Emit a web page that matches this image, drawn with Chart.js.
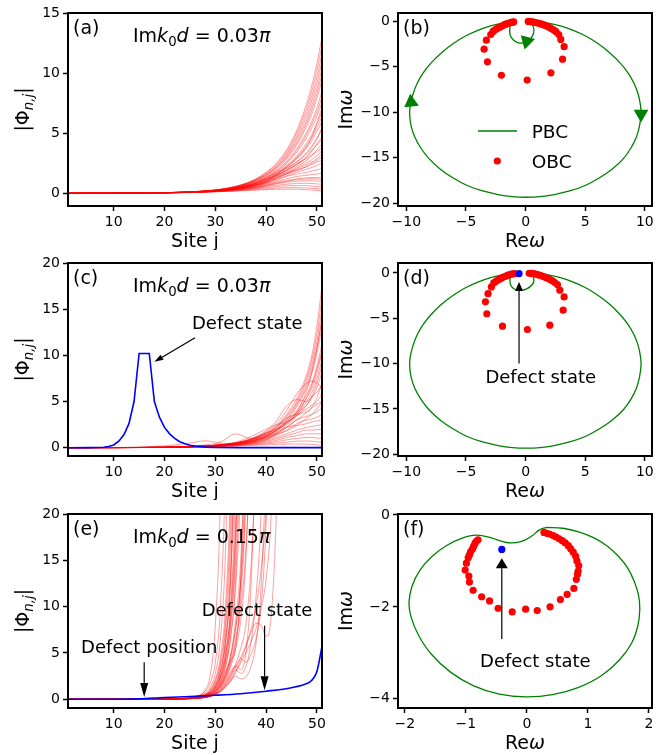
<!DOCTYPE html>
<html>
<head>
<meta charset="utf-8">
<script src="https://cdn.jsdelivr.net/npm/chart.js@4.4.0/dist/chart.umd.min.js"></script>
<style>
  html, body { margin: 0; padding: 0; background: #fff; }
  #fig { position: relative; width: 664px; height: 755px; }
  #fig canvas { position: absolute; }
</style>
</head>
<body>
<div id="fig">
  <canvas id="pa" width="332" height="250" style="left:0;top:0"></canvas>
  <canvas id="pb" width="332" height="250" style="left:332px;top:0"></canvas>
  <canvas id="pc" width="332" height="250" style="left:0;top:250px"></canvas>
  <canvas id="pd" width="332" height="250" style="left:332px;top:250px"></canvas>
  <canvas id="pe" width="332" height="255" style="left:0;top:500px"></canvas>
  <canvas id="pf" width="332" height="255" style="left:332px;top:500px"></canvas>
</div>
<script>
// ---- mode profiles |Phi_{n,j}| ----
const sitesA = [1, 10, 20, 28, 33, 37, 40, 42, 44, 46, 48, 49, 50, 51];
const redA = [
  [0, 0.01, 0.05, 0.2, 0.49, 1.0, 1.75, 2.5, 3.6, 5.2, 7.5, 9.0, 10.8, 13.0],
  [0, 0.01, 0.05, 0.2, 0.48, 0.98, 1.7, 2.4, 3.45, 5.0, 7.15, 8.55, 10.25, 12.3],
  [0, 0.01, 0.05, 0.19, 0.46, 0.95, 1.62, 2.3, 3.3, 4.75, 6.8, 8.1, 9.7, 11.6],
  [0, 0.01, 0.05, 0.19, 0.45, 0.93, 1.57, 2.22, 3.18, 4.55, 6.45, 7.7, 9.2, 11.0],
  [0, 0.01, 0.05, 0.19, 0.44, 0.9, 1.52, 2.15, 3.05, 4.35, 6.1, 7.3, 8.7, 10.4],
  [0, 0.01, 0.05, 0.18, 0.43, 0.88, 1.48, 2.1, 2.95, 4.15, 5.85, 6.95, 8.3, 9.9],
  [0, 0.01, 0.05, 0.18, 0.42, 0.86, 1.42, 2.0, 2.85, 4.0, 5.6, 6.6, 7.9, 9.4],
  [0, 0.01, 0.05, 0.18, 0.4, 0.82, 1.34, 1.88, 2.65, 3.7, 5.1, 6.0, 7.1, 8.5],
  [0, 0.01, 0.05, 0.17, 0.4, 0.8, 1.3, 1.82, 2.55, 3.55, 4.9, 5.75, 6.75, 8.0],
  [0, 0.01, 0.05, 0.17, 0.39, 0.78, 1.27, 1.77, 2.45, 3.4, 4.65, 5.45, 6.4, 7.6],
  [0, 0.01, 0.04, 0.15, 0.34, 0.65, 1.1, 1.6, 2.2, 2.9, 3.9, 4.7, 5.9, 7.1],
  [0, 0.01, 0.05, 0.17, 0.37, 0.74, 1.2, 1.65, 2.3, 3.1, 4.2, 4.9, 5.75, 6.8],
  [0, 0.01, 0.04, 0.16, 0.36, 0.72, 1.16, 1.6, 2.2, 2.98, 4.0, 4.65, 5.45, 6.4],
  [0, 0.01, 0.04, 0.16, 0.36, 0.7, 1.12, 1.55, 2.12, 2.85, 3.8, 4.4, 5.15, 6.0],
  [0, 0.01, 0.04, 0.16, 0.37, 0.72, 1.25, 1.7, 2.1, 2.6, 3.3, 3.8, 4.5, 5.5],
  [0, 0.01, 0.04, 0.16, 0.34, 0.66, 1.05, 1.48, 2.0, 2.6, 3.4, 3.95, 4.6, 5.3],
  [0, 0.01, 0.04, 0.15, 0.33, 0.63, 1.0, 1.45, 1.95, 2.35, 3.0, 3.5, 4.1, 4.7],
  [0, 0.01, 0.04, 0.15, 0.34, 0.64, 1.02, 1.5, 1.85, 2.4, 3.1, 3.6, 4.0, 4.5],
  [0, 0.01, 0.04, 0.15, 0.32, 0.6, 0.98, 1.4, 1.75, 2.2, 2.75, 3.15, 3.6, 4.1],
  [0, 0.01, 0.04, 0.15, 0.35, 0.68, 1.15, 1.45, 1.9, 2.45, 2.9, 3.2, 3.45, 3.8],
  [0, 0.01, 0.04, 0.14, 0.31, 0.58, 0.95, 1.25, 1.6, 2.1, 2.55, 2.8, 3.15, 3.5],
  [0, 0.01, 0.04, 0.14, 0.31, 0.57, 0.9, 1.3, 1.7, 2.0, 2.4, 2.6, 2.9, 3.25],
  [0, 0.01, 0.04, 0.14, 0.3, 0.55, 0.88, 1.2, 1.6, 1.85, 2.25, 2.5, 2.75, 3.0],
  [0, 0.01, 0.04, 0.14, 0.3, 0.56, 0.9, 1.3, 1.65, 1.95, 2.2, 2.4, 2.6, 2.75],
  [0, 0.01, 0.04, 0.13, 0.28, 0.52, 0.82, 1.15, 1.45, 1.75, 2.0, 2.15, 2.3, 2.5],
  [0, 0.01, 0.04, 0.13, 0.27, 0.5, 0.78, 1.05, 1.4, 1.6, 1.75, 1.85, 1.95, 2.05],
  [0, 0.01, 0.03, 0.12, 0.26, 0.47, 0.72, 0.95, 1.2, 1.4, 1.5, 1.55, 1.6, 1.65],
  [0, 0.01, 0.03, 0.12, 0.25, 0.44, 0.66, 0.88, 1.05, 1.2, 1.28, 1.3, 1.3, 1.3],
  [0, 0.01, 0.03, 0.12, 0.24, 0.42, 0.63, 0.82, 1.0, 1.12, 1.2, 1.22, 1.2, 1.15],
  [0, 0.01, 0.03, 0.11, 0.23, 0.4, 0.6, 0.78, 0.92, 1.0, 1.05, 1.04, 1.02, 1.0],
  [0, 0.01, 0.03, 0.11, 0.22, 0.37, 0.52, 0.66, 0.76, 0.82, 0.83, 0.81, 0.78, 0.75],
  [0, 0.01, 0.03, 0.1, 0.2, 0.33, 0.45, 0.55, 0.62, 0.64, 0.63, 0.6, 0.56, 0.52],
  [0, 0.01, 0.03, 0.1, 0.18, 0.28, 0.37, 0.43, 0.46, 0.47, 0.44, 0.41, 0.38, 0.34],
  [0, 0.01, 0.03, 0.09, 0.16, 0.24, 0.3, 0.33, 0.34, 0.33, 0.3, 0.27, 0.24, 0.2]
];

const sitesC = [1, 10, 20, 25, 28, 31, 34, 37, 40, 42, 44, 46, 48, 49, 50, 51];
const redC = [
  [0, 0.01, 0.05, 0.12, 0.2, 0.3, 0.5, 0.9, 1.6, 2.4, 3.6, 5.3, 8.0, 10.0, 13.2, 17.5],
  [0, 0.01, 0.05, 0.12, 0.2, 0.3, 0.5, 0.88, 1.55, 2.3, 3.45, 5.0, 7.6, 9.5, 12.3, 16.2],
  [0, 0.01, 0.05, 0.12, 0.2, 0.3, 0.5, 0.85, 1.5, 2.2, 3.3, 4.8, 7.2, 9.0, 11.5, 15.0],
  [0, 0.01, 0.04, 0.1, 0.18, 0.3, 0.5, 0.95, 1.6, 2.0, 2.6, 3.8, 6.2, 8.2, 10.8, 14.0],
  [0, 0.01, 0.05, 0.11, 0.19, 0.29, 0.47, 0.82, 1.45, 2.1, 3.1, 4.6, 6.8, 8.5, 10.8, 13.8],
  [0, 0.01, 0.05, 0.1, 0.18, 0.28, 0.45, 0.8, 1.4, 2.0, 3.0, 4.4, 6.5, 8.0, 10.2, 13.0],
  [0, 0.01, 0.05, 0.1, 0.18, 0.28, 0.45, 0.75, 1.3, 1.9, 2.8, 4.0, 5.8, 7.0, 8.8, 11.2],
  [0, 0.01, 0.04, 0.12, 0.2, 0.35, 0.6, 1.2, 2.0, 2.5, 2.8, 3.5, 5.5, 6.8, 8.5, 10.5],
  [0, 0.01, 0.04, 0.1, 0.17, 0.27, 0.43, 0.72, 1.25, 1.85, 2.7, 3.8, 5.4, 6.5, 8.1, 10.3],
  [0, 0.01, 0.04, 0.1, 0.17, 0.27, 0.42, 0.7, 1.2, 1.8, 2.6, 3.6, 5.0, 6.0, 7.5, 9.5],
  [0, 0.01, 0.04, 0.11, 0.19, 0.32, 0.55, 1.0, 1.8, 2.9, 4.5, 5.2, 5.0, 5.6, 7.0, 9.0],
  [0, 0.01, 0.04, 0.1, 0.17, 0.26, 0.4, 0.65, 1.2, 1.9, 2.9, 3.8, 4.6, 5.4, 6.5, 8.2],
  [0, 0.01, 0.04, 0.1, 0.16, 0.25, 0.4, 0.7, 1.3, 2.2, 3.2, 3.6, 3.9, 4.4, 5.4, 7.0],
  [0, 0.02, 0.2, 0.5, 0.75, 0.5, 0.45, 0.7, 1.1, 1.6, 2.4, 3.4, 4.6, 5.5, 6.0, 6.8],
  [0, 0.01, 0.04, 0.1, 0.18, 0.3, 0.5, 0.9, 1.7, 2.6, 4.0, 5.8, 7.0, 7.2, 7.0, 6.5],
  [0, 0.01, 0.05, 0.15, 0.3, 0.6, 1.5, 1.0, 1.2, 1.8, 2.7, 3.5, 4.2, 4.6, 5.0, 5.8],
  [0, 0.01, 0.04, 0.1, 0.16, 0.25, 0.38, 0.6, 1.0, 1.5, 2.2, 3.0, 3.8, 4.3, 4.7, 5.0],
  [0, 0.01, 0.03, 0.08, 0.13, 0.2, 0.33, 0.55, 1.1, 1.5, 1.8, 2.4, 3.2, 3.6, 4.2, 5.0],
  [0, 0.01, 0.04, 0.09, 0.15, 0.24, 0.36, 0.6, 1.0, 1.4, 2.2, 3.0, 3.4, 3.6, 3.9, 4.3],
  [0, 0.01, 0.04, 0.09, 0.15, 0.22, 0.35, 0.55, 0.9, 1.3, 1.9, 2.6, 3.0, 3.1, 3.3, 3.6],
  [0, 0.01, 0.04, 0.08, 0.14, 0.2, 0.32, 0.5, 0.85, 1.6, 2.2, 2.4, 2.6, 2.8, 2.9, 3.0],
  [0, 0.01, 0.03, 0.08, 0.13, 0.19, 0.3, 0.48, 0.8, 1.1, 1.5, 1.9, 2.2, 2.3, 2.4, 2.5],
  [0, 0.01, 0.03, 0.07, 0.12, 0.17, 0.28, 0.45, 0.7, 0.95, 1.3, 1.6, 1.9, 1.9, 1.95, 2.0],
  [0, 0.01, 0.03, 0.07, 0.11, 0.16, 0.25, 0.4, 0.6, 0.8, 1.1, 1.3, 1.5, 1.5, 1.5, 1.5],
  [0, 0.01, 0.03, 0.06, 0.1, 0.15, 0.22, 0.35, 0.5, 0.65, 0.85, 1.0, 1.1, 1.1, 1.05, 1.0],
  [0, 0.01, 0.03, 0.06, 0.09, 0.13, 0.2, 0.3, 0.42, 0.5, 0.6, 0.7, 0.72, 0.7, 0.65, 0.6],
  [0, 0.01, 0.02, 0.05, 0.08, 0.12, 0.17, 0.24, 0.3, 0.35, 0.38, 0.4, 0.38, 0.35, 0.3, 0.25]
];
// defect mode, panel (c)
const sitesDefC = [1, 5, 8, 9, 10, 11, 12, 13, 14, 15, 16, 17, 18, 19, 20, 21, 22, 23, 24, 25, 26, 28, 30, 35, 51];
const defectC = [0, 0.01, 0.05, 0.12, 0.3, 0.7, 1.4, 2.6, 5.0, 10.2, 10.2, 10.2, 5.0, 3.3, 2.2, 1.5, 1.0, 0.65, 0.42, 0.27, 0.17, 0.06, 0.02, 0.01, 0.01];

const sitesE = [1, 15, 20, 24, 26, 28, 29, 30, 31, 32, 33, 34, 35, 36, 37, 38, 39, 40, 41, 42, 43];
const redE = [
  [0, 0.01, 0.04, 0.12, 0.3, 1.0, 2.6, 8, 22, 60],
  [0, 0.01, 0.04, 0.12, 0.3, 0.9, 1.8, 4, 10, 26, 70],
  [0, 0.01, 0.03, 0.1, 0.25, 0.7, 1.3, 2.8, 6.5, 16, 40],
  [0, 0.01, 0.03, 0.1, 0.22, 0.6, 1.1, 2.2, 4.5, 10, 24, 60],
  [0, 0.01, 0.03, 0.09, 0.2, 0.5, 0.9, 1.8, 3.6, 7.5, 17, 40],
  [0, 0.01, 0.03, 0.09, 0.19, 0.47, 0.8, 1.5, 3.0, 6.0, 12.5, 27],
  [0, 0.01, 0.03, 0.08, 0.18, 0.45, 0.8, 1.5, 2.9, 6, 13, 30],
  [0, 0.01, 0.03, 0.08, 0.17, 0.4, 0.7, 1.3, 2.5, 5, 10, 24, 60],
  [0, 0.01, 0.03, 0.08, 0.16, 0.4, 0.68, 1.25, 2.4, 4.6, 9, 18, 36],
  [0, 0.01, 0.03, 0.07, 0.15, 0.35, 0.6, 1.1, 2.1, 4, 8, 17, 40],
  [0, 0.01, 0.02, 0.07, 0.14, 0.34, 0.58, 1.05, 1.9, 3.6, 6.8, 13, 26],
  [0, 0.01, 0.02, 0.07, 0.14, 0.32, 0.55, 1.0, 1.8, 3.4, 6.5, 12, 24, 55],
  [0, 0.01, 0.02, 0.06, 0.13, 0.3, 0.5, 0.9, 1.7, 3.0, 4.2, 5.5, 13, 30],
  [0, 0.01, 0.02, 0.06, 0.13, 0.29, 0.48, 0.85, 1.5, 2.6, 4.4, 7.5, 12.5, 22, 45],
  [0, 0.01, 0.02, 0.06, 0.12, 0.28, 0.45, 0.8, 1.4, 2.4, 4.0, 6.5, 11, 22, 50],
  [0, 0.01, 0.02, 0.06, 0.12, 0.26, 0.42, 0.75, 1.3, 2.2, 3.5, 5.5, 8.5, 15, 30],
  [0, 0.01, 0.02, 0.05, 0.11, 0.24, 0.4, 0.7, 1.2, 2.0, 3.0, 3.6, 3.2, 5, 12, 28],
  [0, 0.01, 0.02, 0.05, 0.1, 0.22, 0.36, 0.6, 1.0, 1.7, 2.6, 3.8, 5.5, 8, 14, 25],
  [0, 0.01, 0.02, 0.05, 0.1, 0.2, 0.32, 0.55, 0.9, 1.4, 2.1, 3.0, 4.2, 5.6, 7.2, 8.2, 8.0, 6.8, 9, 20, 45],
  [0, 0.01, 0.02, 0.05, 0.1, 0.2, 0.33, 0.55, 0.9, 1.5, 2.3, 3.2, 2.8, 3.5, 6, 11, 20, 40],
  [0, 0.01, 0.02, 0.05, 0.09, 0.18, 0.3, 0.5, 0.8, 1.3, 1.9, 2.5, 2.2, 2.4, 3.5, 6, 12, 25],
  [0, 0.01, 0.03, 0.08, 0.16, 0.38, 0.65, 1.2, 2.2, 4.2, 8, 15, 30],
  [0, 0.01, 0.03, 0.09, 0.2, 0.5, 0.85, 1.6, 3.2, 6.5, 14, 32],
  [0, 0.01, 0.02, 0.06, 0.13, 0.3, 0.5, 0.85, 1.5, 2.7, 4.6, 7.8, 13, 24],
  [0, 0.01, 0.03, 0.1, 0.22, 0.55, 1.0, 2.0, 4.0, 8.5, 20, 45],
  [0, 0.01, 0.02, 0.05, 0.1, 0.22, 0.35, 0.6, 1.1, 1.8, 2.8, 3.6, 4.4, 4.0, 4.8, 6.5, 10, 19, 38],
  [0, 0.01, 0.02, 0.05, 0.1, 0.21, 0.34, 0.58, 1.0, 1.6, 2.5, 3.4, 4.5, 5.8, 7.5, 10, 14, 21, 40],
  [0, 0.01, 0.02, 0.05, 0.09, 0.19, 0.31, 0.52, 0.85, 1.35, 2.0, 2.9, 3.9, 5.0, 6.2, 7.6, 9.8, 13, 20, 38],
  [0, 0.01, 0.03, 0.07, 0.14, 0.33, 0.55, 0.95, 1.6, 2.8, 4.8, 8.5, 15, 28],
  [0, 0.01, 0.03, 0.08, 0.17, 0.42, 0.72, 1.3, 2.5, 4.8, 9.5, 19, 38],
  [0, 0.01, 0.02, 0.06, 0.12, 0.27, 0.44, 0.78, 1.35, 2.3, 3.8, 6.0, 9.8, 16, 28]
];
// defect mode, panel (e)
const sitesDefE = [1, 10, 15, 20, 25, 30, 35, 40, 45, 48, 49, 50, 51];
const defectE = [0, 0.01, 0.05, 0.2, 0.3, 0.43, 0.6, 0.87, 1.25, 1.7, 2.05, 3.0, 5.7];

// ---- spectra in the complex plane ----
// PBC loop, large arc (b, d), clockwise from the top
const arcRe = [0.35, 1.0, 2.0, 3.0, 4.0, 5.0, 6.0, 7.0, 7.9, 8.6, 9.1, 9.45, 9.64, 9.68, 9.55, 9.3, 8.85, 8.2, 7.3, 6.2, 5.0, 3.7, 2.4, 1.2, 0.07,
  -1.1, -2.3, -3.6, -4.9, -6.1, -7.2, -8.1, -8.8, -9.3, -9.6, -9.72, -9.68, -9.45, -9.1, -8.6, -7.9, -7.0, -6.0, -5.0, -4.0, -3.0, -2.0, -1.1];
const arcIm = [-0.03, -0.08, -0.24, -0.55, -1.0, -1.6, -2.4, -3.4, -4.55, -5.7, -6.85, -8.05, -9.3, -10.2, -11.5, -12.7, -13.9, -15.1, -16.2, -17.2, -18.05, -18.65, -19.05, -19.28, -19.34,
  -19.28, -19.05, -18.65, -18.05, -17.2, -16.2, -15.1, -13.9, -12.7, -11.5, -10.3, -9.3, -8.05, -6.85, -5.7, -4.55, -3.4, -2.4, -1.6, -1.0, -0.55, -0.24, -0.07];
// small inner loop near the origin
const notchBRe = [-1.3, -1.3, -1.0, -0.5, 0.1, 0.55, 0.7, 0.55, 0.35];
const notchBIm = [-0.5, -1.5, -2.1, -2.4, -2.25, -1.7, -0.95, -0.35, -0.03];
const notchDRe = [-1.3, -1.25, -0.9, -0.45, 0.1, 0.55, 0.7, 0.55, 0.35];
const notchDIm = [-0.6, -1.35, -1.8, -1.92, -1.75, -1.3, -0.8, -0.25, -0.03];
// winding direction markers (b)
const dirRe = [-9.6, 9.68, 0.1];
const dirIm = [-8.9, -10.2, -2.2];
const dirRot = [-6, 180, 75];

const obcBRe = [-1.0, -1.12, -1.25, -1.38, -1.52, -1.66, -1.8, -1.95, -2.1, -2.26, -2.42, -2.58, -2.73, -2.92, -3.29, -3.48, -3.2, -2.03, 0.13,
  2.12, 3.1, 3.23, 2.95, 2.78, 2.55, 2.38, 2.2, 2.02, 1.84, 1.66, 1.48, 1.3, 1.12, 0.94, 0.76, 0.58, 0.4, 0.22];
const obcBIm = [-0.08, -0.11, -0.15, -0.2, -0.26, -0.33, -0.41, -0.5, -0.6, -0.71, -0.83, -0.97, -1.12, -1.46, -2.08, -3.07, -4.46, -5.94, -6.47,
  -5.67, -4.17, -2.8, -2.0, -1.46, -1.15, -0.98, -0.83, -0.7, -0.58, -0.47, -0.38, -0.3, -0.23, -0.17, -0.12, -0.08, -0.05, -0.03];
const obcDRe = [-0.92, -1.05, -1.18, -1.32, -1.46, -1.6, -1.75, -1.9, -2.05, -2.2, -2.36, -2.52, -2.67, -2.87, -3.15, -3.37, -3.25, -1.94, 0.15,
  2.03, 3.15, 3.23, 2.87, 2.67, 2.45, 2.28, 2.1, 1.92, 1.74, 1.56, 1.38, 1.2, 1.02, 0.84, 0.66, 0.48, 0.3];
const obcDIm = [-0.06, -0.09, -0.13, -0.18, -0.24, -0.31, -0.39, -0.48, -0.58, -0.69, -0.81, -0.95, -1.1, -1.54, -2.28, -3.19, -4.5, -5.87, -6.24,
  -5.76, -4.11, -2.64, -1.9, -1.28, -1.05, -0.9, -0.76, -0.64, -0.53, -0.43, -0.34, -0.26, -0.19, -0.13, -0.08, -0.05, -0.03];
const defectDRe = [-0.55];
const defectDIm = [-0.07];

// (f), Im k0 d = 0.15 pi
const pbcFRe = [0.32, 0.59, 0.85, 1.1, 1.32, 1.5, 1.65, 1.76, 1.83, 1.85, 1.82, 1.72, 1.52, 1.22, 0.85, 0.42, -0.01, -0.45, -0.87, -1.25, -1.57, -1.78, -1.9, -1.93, -1.88, -1.75, -1.55, -1.32, -1.07, -0.82, -0.58, -0.33, -0.1, 0.08, 0.2, 0.32];
const pbcFIm = [-0.27, -0.29, -0.37, -0.5, -0.68, -0.9, -1.15, -1.45, -1.75, -2.05, -2.4, -2.78, -3.15, -3.5, -3.75, -3.91, -3.96, -3.9, -3.72, -3.42, -3.02, -2.6, -2.2, -1.9, -1.55, -1.2, -0.9, -0.67, -0.51, -0.44, -0.5, -0.6, -0.58, -0.46, -0.33, -0.27];
const obcFRe = [-0.8, -0.83, -0.85, -0.87, -0.89, -0.92, -0.94, -0.96, -0.99, -1.01, -0.95, -0.94, -0.88, -0.74, -0.61, -0.47, -0.24, -0.02, 0.17,
  0.38, 0.55, 0.66, 0.77, 0.81, 0.83, 0.84, 0.85, 0.82, 0.8, 0.76, 0.72, 0.68, 0.63, 0.58, 0.53, 0.48, 0.43, 0.38, 0.33, 0.28];
const obcFIm = [-0.54, -0.58, -0.62, -0.68, -0.74, -0.8, -0.87, -0.93, -1.05, -1.2, -1.33, -1.46, -1.64, -1.78, -1.87, -2.03, -2.11, -2.05, -2.08,
  -2.0, -1.84, -1.73, -1.6, -1.4, -1.29, -1.22, -1.1, -1.0, -0.9, -0.81, -0.74, -0.67, -0.61, -0.56, -0.52, -0.48, -0.45, -0.42, -0.4, -0.38];
const defectFRe = [-0.41];
const defectFIm = [-0.75];

// ---- helpers ----
const FAMILY = '"DejaVu Sans", "Liberation Sans", sans-serif';
const RED_LINE = 'rgba(255,0,0,0.45)';
const GREEN = '#008000';
const BLUE = '#0000ff';

const pts = (xs, ys) => ys.map((y, i) => ({ x: xs[i], y: y }));

function redLines(sites, rows) {
  return rows.map(r => ({
    data: pts(sites, r), showLine: true, borderColor: RED_LINE, borderWidth: 0.85,
    pointRadius: 0, cubicInterpolationMode: 'monotone'
  }));
}
function dots(re, im, color) {
  return { data: pts(re, im), showLine: false, pointRadius: 3.6, pointBackgroundColor: color, pointBorderWidth: 0 };
}
function loop(re, im) {
  return { data: pts(re, im), showLine: true, borderColor: GREEN, borderWidth: 1.3, pointRadius: 0, tension: 0.4 };
}

function fontFor(s, size) {
  return (s.it ? 'italic ' : '') + (s.sub ? size * 0.7 : size) + 'px ' + FAMILY;
}
// draws mixed upright / italic / subscript text, y is the middle of the capitals
function drawRich(ctx, segs, x, y, size, align) {
  let w = 0;
  segs.forEach(s => { ctx.font = fontFor(s, size); w += ctx.measureText(s.t).width; });
  let cx = align === 'center' ? x - w / 2 : (align === 'right' ? x - w : x);
  const base = y + size * 0.36;
  ctx.textAlign = 'left';
  ctx.textBaseline = 'alphabetic';
  segs.forEach(s => {
    ctx.font = fontFor(s, size);
    ctx.fillText(s.t, cx, base + (s.sub ? size * 0.22 : 0));
    cx += ctx.measureText(s.t).width;
  });
}
function arrow(ctx, x0, y0, x1, y1, hl, hw) {
  const a = Math.atan2(y1 - y0, x1 - x0), c = Math.cos(a), s = Math.sin(a);
  const bx = x1 - hl * c, by = y1 - hl * s;
  ctx.lineWidth = 1.2;
  ctx.beginPath(); ctx.moveTo(x0, y0); ctx.lineTo(bx, by); ctx.stroke();
  ctx.beginPath(); ctx.moveTo(x1, y1);
  ctx.lineTo(bx + hw / 2 * s, by - hw / 2 * c);
  ctx.lineTo(bx - hw / 2 * s, by + hw / 2 * c);
  ctx.closePath(); ctx.fill();
}

function decoPlugin(d) {
  return {
    id: 'deco',
    afterDraw(chart) {
      const ctx = chart.ctx, a = chart.chartArea, xs = chart.scales.x, ys = chart.scales.y;
      ctx.save();
      ctx.fillStyle = '#000';
      ctx.strokeStyle = '#000';
      ctx.lineWidth = 2;
      ctx.strokeRect(a.left, a.top, a.right - a.left, a.bottom - a.top);
      drawRich(ctx, [{ t: d.panel }], a.left + 5, a.top + 14, 19, 'left');
      if (d.title) drawRich(ctx, d.title, a.left + 133.7, a.top + 22, 19, 'center');
      drawRich(ctx, d.xlabel, (a.left + a.right) / 2, a.bottom + 34, 19, 'center');
      ctx.save();
      ctx.translate(d.ylabelX, (a.top + a.bottom) / 2);
      ctx.rotate(-Math.PI / 2);
      drawRich(ctx, d.ylabel, 0, 0, 19, 'center');
      ctx.restore();
      (d.notes || []).forEach(n => drawRich(ctx, [{ t: n.text }], xs.getPixelForValue(n.x), ys.getPixelForValue(n.y), 18, 'center'));
      (d.arrows || []).forEach(r => arrow(ctx,
        xs.getPixelForValue(r.x0), ys.getPixelForValue(r.y0),
        xs.getPixelForValue(r.x1), ys.getPixelForValue(r.y1), r.hl, r.hw));
      if (d.legend) {
        ctx.strokeStyle = GREEN; ctx.lineWidth = 1.5;
        ctx.beginPath(); ctx.moveTo(a.left + 80, a.top + 118); ctx.lineTo(a.left + 119, a.top + 118); ctx.stroke();
        ctx.fillStyle = '#000';
        drawRich(ctx, [{ t: 'PBC' }], a.left + 133.7, a.top + 118, 18.5, 'left');
        ctx.fillStyle = 'red';
        ctx.beginPath(); ctx.arc(a.left + 99.3, a.top + 148, 3.6, 0, Math.PI * 2); ctx.fill();
        ctx.fillStyle = '#000';
        drawRich(ctx, [{ t: 'OBC' }], a.left + 133.7, a.top + 148, 18.5, 'left');
      }
      ctx.restore();
    }
  };
}

function axis(min, max, ticks, fit) {
  return {
    type: 'linear', min: min, max: max,
    afterBuildTicks: s => { s.ticks = ticks.map(v => ({ value: v })); },
    afterFit: fit,
    grid: { display: true, drawOnChartArea: false, drawTicks: true, tickLength: 5, tickWidth: 1.5, tickColor: '#000' },
    border: { display: false },
    ticks: {
      color: '#000', padding: 3, autoSkip: false, maxRotation: 0,
      font: { family: FAMILY, size: 14 },
      callback: v => (v < 0 ? '\u2212' + Math.abs(v) : String(v))
    }
  };
}

function panel(id, p) {
  new Chart(document.getElementById(id), {
    type: 'scatter',
    data: { datasets: p.datasets },
    options: {
      responsive: false, animation: false, events: [],
      layout: { padding: { left: 0, right: p.padRight, top: p.padTop, bottom: 0 } },
      plugins: { legend: { display: false }, tooltip: { enabled: false } },
      scales: {
        x: axis(p.x[0], p.x[1], p.xTicks, s => { s.height = p.xH; }),
        y: axis(p.y[0], p.y[1], p.yTicks, s => { s.width = p.yW; })
      }
    },
    plugins: [decoPlugin(p.deco)]
  });
}

const siteTicks = [10, 20, 30, 40, 50];
const phiLabel = [{ t: '|\u03a6' }, { t: 'n,j', it: true, sub: true }, { t: '|' }];
const imLabel = [{ t: 'Im' }, { t: '\u03c9', it: true }];
const reLabel = [{ t: 'Re' }, { t: '\u03c9', it: true }];
const siteLabel = [{ t: 'Site j' }];
const titleOf = v => [{ t: 'Im' }, { t: 'k', it: true }, { t: '0', sub: true }, { t: 'd', it: true }, { t: ' = ' + v }, { t: '\u03c0', it: true }];

// (a)
panel('pa', {
  x: [1, 51], xTicks: siteTicks, y: [-1.06, 15], yTicks: [0, 5, 10, 15],
  yW: 68, xH: 44, padTop: 13, padRight: 10,
  datasets: redLines(sitesA, redA),
  deco: { panel: '(a)', title: titleOf('0.03'), xlabel: siteLabel, ylabel: phiLabel, ylabelX: 22 }
});

// (b)
panel('pb', {
  x: [-10.7, 10.6], xTicks: [-10, -5, 0, 5, 10], y: [-20.3, 0.9], yTicks: [-20, -15, -10, -5, 0],
  yW: 66, xH: 44, padTop: 13, padRight: 12,
  datasets: [
    dots(obcBRe, obcBIm, 'red'),
    { data: pts(dirRe, dirIm), showLine: false, pointStyle: 'triangle', pointRadius: 8.5, pointRotation: dirRot,
      pointBackgroundColor: GREEN, pointBorderColor: GREEN, pointBorderWidth: 0 },
    loop(arcRe.concat(notchBRe), arcIm.concat(notchBIm))
  ],
  deco: { panel: '(b)', xlabel: reLabel, ylabel: imLabel, ylabelX: 13, legend: true }
});

// (c)
panel('pc', {
  x: [1, 51], xTicks: siteTicks, y: [-0.9, 20], yTicks: [0, 5, 10, 15, 20],
  yW: 68, xH: 44, padTop: 13, padRight: 10,
  datasets: [{ data: pts(sitesDefC, defectC), showLine: true, borderColor: BLUE, borderWidth: 1.6, pointRadius: 0, tension: 0 }]
    .concat(redLines(sitesC, redC)),
  deco: {
    panel: '(c)', title: titleOf('0.03'), xlabel: siteLabel, ylabel: phiLabel, ylabelX: 22,
    notes: [{ text: 'Defect state', x: 36.3, y: 13.6 }],
    arrows: [{ x0: 26.0, y0: 11.9, x1: 18.0, y1: 9.3, hl: 9, hw: 6 }]
  }
});

// (d)
panel('pd', {
  x: [-10.7, 10.6], xTicks: [-10, -5, 0, 5, 10], y: [-20.2, 1.1], yTicks: [-20, -15, -10, -5, 0],
  yW: 66, xH: 44, padTop: 13, padRight: 12,
  datasets: [
    dots(defectDRe, defectDIm, BLUE),
    dots(obcDRe, obcDIm, 'red'),
    loop(arcRe.concat(notchDRe), arcIm.concat(notchDIm))
  ],
  deco: {
    panel: '(d)', xlabel: reLabel, ylabel: imLabel, ylabelX: 13,
    notes: [{ text: 'Defect state', x: 1.27, y: -11.4 }],
    arrows: [{ x0: -0.55, y0: -9.98, x1: -0.55, y1: -0.99, hl: 9, hw: 8 }]
  }
});

// (e)
panel('pe', {
  x: [1, 51], xTicks: siteTicks, y: [-0.94, 20], yTicks: [0, 5, 10, 15, 20],
  yW: 68, xH: 47, padTop: 14, padRight: 10,
  datasets: [{ data: pts(sitesDefE, defectE), showLine: true, borderColor: BLUE, borderWidth: 1.6, pointRadius: 0, cubicInterpolationMode: 'monotone' }]
    .concat(redLines(sitesE, redE)),
  deco: {
    panel: '(e)', title: titleOf('0.15'), xlabel: siteLabel, ylabel: phiLabel, ylabelX: 22,
    notes: [{ text: 'Defect position', x: 17.0, y: 5.67 }, { text: 'Defect state', x: 38.2, y: 9.64 }],
    arrows: [
      { x0: 16.0, y0: 4.0, x1: 16.0, y1: 0.25, hl: 14, hw: 8 },
      { x0: 39.7, y0: 7.94, x1: 39.7, y1: 0.98, hl: 14, hw: 8 }
    ]
  }
});

// (f)
panel('pf', {
  x: [-2.11, 2.05], xTicks: [-2, -1, 0, 1, 2], y: [-4.2, 0.02], yTicks: [-4, -2, 0],
  yW: 66, xH: 47, padTop: 14, padRight: 12,
  datasets: [
    dots(defectFRe, defectFIm, BLUE),
    dots(obcFRe, obcFIm, 'red'),
    loop(pbcFRe, pbcFIm)
  ],
  deco: {
    panel: '(f)', xlabel: reLabel, ylabel: imLabel, ylabelX: 13,
    notes: [{ text: 'Defect state', x: 0.14, y: -3.16 }],
    arrows: [{ x0: -0.41, y0: -2.7, x1: -0.41, y1: -0.94, hl: 10, hw: 12 }]
  }
});
</script>
</body>
</html>
